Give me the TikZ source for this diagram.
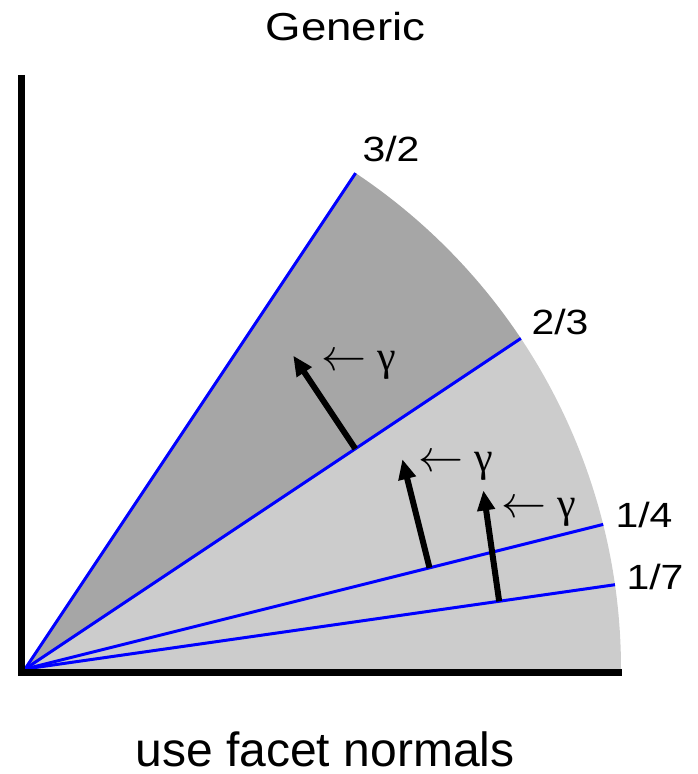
\documentclass[tikz,border=0pt]{standalone}
\usepackage{graphicx}
\usepackage{fontspec}
\setmainfont[FakeStretch=1.17]{Liberation Sans}
\newfontfamily\captionfont{Liberation Sans}
\newfontfamily\gammafont{Liberation Serif}
\usetikzlibrary{arrows.meta}
\definecolor{sectordark}{RGB}{166,166,166}
\definecolor{sectorlight}{RGB}{204,204,204}
\newcommand{\gammalab}{\scalebox{4.5}{$\leftarrow$}\hspace{11pt}{\gammafont\fontsize{42}{48}\selectfont γ}}
\begin{document}
\begin{tikzpicture}[x=1pt,y=1pt,
  ray/.style={draw=blue, line width=3pt},
  normalarrow/.style={line width=6pt, -{Triangle[length=20pt,width=17pt]}},
  axisline/.style={line width=7pt, line join=miter},
  fraclabel/.style={font=\fontsize{35}{40}\selectfont, inner sep=0pt, anchor=base},
  gammalabel/.style={inner sep=0pt, anchor=base west},
  titlelabel/.style={inner sep=0pt, anchor=base}]
\useasboundingbox (0,0) rectangle (698,774);
\coordinate (O) at (25,105);
\def\R{596}
% sectors
\fill[sectordark] (O) -- ++(56.31:\R) arc[start angle=56.31, end angle=33.69, radius=\R] -- cycle;
\fill[sectorlight] (O) -- ++(33.69:\R) arc[start angle=33.69, end angle=0, radius=\R] -- cycle;
% rays
\path (O) ++(56.31:\R) coordinate (e32);
\path (O) ++(33.69:\R) coordinate (e23);
\path (O) ++(14.04:\R) coordinate (e14);
\path (O) ++(8.13:\R) coordinate (e17);
\draw[ray] (O) -- (e32);
\draw[ray] (O) -- (e23);
\draw[ray] (O) -- (e14);
\draw[ray] (O) -- (e17);
% axes
\coordinate (ytop) at (21.5,699);
\coordinate (corner) at (21.5,101.5);
\coordinate (xend) at (622,101.5);
\draw[axisline] (ytop) -- (corner) -- (xend);
% normal arrows
\path (O) ++(33.69:397) coordinate (a1s) ++(123.69:112) coordinate (a1t);
\path (O) ++(14.04:417) coordinate (a2s) ++(104.04:112) coordinate (a2t);
\path (O) ++(8.13:479) coordinate (a3s) ++(98.13:112) coordinate (a3t);
\draw[normalarrow] (a1s) -- (a1t);
\draw[normalarrow] (a2s) -- (a2t);
\draw[normalarrow] (a3s) -- (a3t);
% gamma labels
\node[gammalabel] (g1) at (321,403) {\gammalab};
\node[gammalabel] (g2) at (418,302) {\gammalab};
\node[gammalabel] (g3) at (501,256) {\gammalab};
% fraction labels
\node[fraclabel] (l32) at (391,612) {3/2};
\node[fraclabel] (l23) at (560,439) {2/3};
\node[fraclabel] (l14) at (644,246) {1/4};
\node[fraclabel] (l17) at (655,184) {1/7};
% titles
\node[titlelabel, font=\fontsize{39}{44}\selectfont] (title) at (345.5,733) {Generic};
\node[titlelabel, font=\captionfont\fontsize{48}{52}\selectfont] (caption) at (325,8) {use facet normals};
\end{tikzpicture}
\end{document}
